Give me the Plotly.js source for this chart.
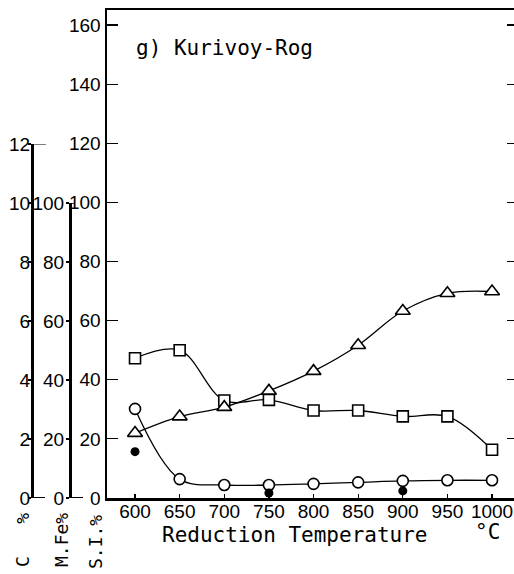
<!DOCTYPE html>
<html>
<head>
<meta charset="utf-8">
<script src="https://cdn.plot.ly/plotly-3.0.1.min.js"></script>
<style>
  html, body { margin: 0; padding: 0; background: #fff; }
  #chart { width: 514px; height: 574px; }
</style>
</head>
<body>
<div id="chart"></div>
<script>
// Reduction temperature (°C)
const temps = [600, 650, 700, 750, 800, 850, 900, 950, 1000];
// S.I. % (open squares)
const siPct = [47.3, 50.0, 33.0, 33.2, 29.6, 29.6, 27.6, 27.6, 16.3];
// M.Fe % (open triangles)
const mFePct = [22.0, 27.6, 30.8, 36.3, 43.0, 51.8, 63.4, 69.4, 70.0];
// C % (open circles)
const cPct = [3.02, 0.64, 0.44, 0.44, 0.48, 0.53, 0.58, 0.60, 0.60];
// C % (filled dots)
const solidTemps = [600, 750, 900];
const cPctSolid = [1.57, 0.17, 0.24];

const siTicks = [0, 20, 40, 60, 80, 100, 120, 140, 160];
const mFeTicks = [0, 20, 40, 60, 80, 100];
const cTicks = [0, 2, 4, 6, 8, 10, 12];

const W = 514, H = 574;
const plotL = 107, plotT = 10, plotB = 498;
const plotH = plotB - plotT;

const tickFont = { family: 'Liberation Sans, Arial, sans-serif', size: 19, color: '#000' };
const textFont = { family: 'DejaVu Sans Mono, monospace', size: 21, color: '#000' };
const unitFont = { family: 'DejaVu Sans Mono, monospace', size: 18, color: '#000' };
const lineStyle = { color: '#000', width: 1.3, shape: 'spline', smoothing: 1 };
const openMarker = (symbol, size) => ({
  symbol: symbol, size: size, color: '#fff', line: { color: '#000', width: 1.6 }
});

const traces = [
  { x: temps, y: siPct, mode: 'lines+markers', xaxis: 'x', yaxis: 'y',
    line: lineStyle, marker: openMarker('square', 11), name: 'S.I. %' },
  { x: temps, y: mFePct, mode: 'lines+markers', xaxis: 'x', yaxis: 'y2',
    line: lineStyle, marker: openMarker('triangle-up', 13), name: 'M.Fe %' },
  { x: temps, y: cPct, mode: 'lines+markers', xaxis: 'x', yaxis: 'y3',
    line: lineStyle, marker: openMarker('circle', 11), name: 'C %' },
  { x: solidTemps, y: cPctSolid, mode: 'markers', xaxis: 'x', yaxis: 'y3',
    marker: { symbol: 'circle', size: 9, color: '#000' }, name: 'C % (solid)' },
  // carries the tick marks along the right edge
  { x: [], y: [], xaxis: 'x', yaxis: 'y4', showlegend: false, hoverinfo: 'skip' }
];

const px = v => v / W;               // paper x from pixel
const py = v => (plotB - v) / plotH; // paper y from pixel

const layout = {
  width: W, height: H,
  margin: { l: 0, r: 0, t: plotT, b: H - plotB, pad: 0 },
  paper_bgcolor: '#fff', plot_bgcolor: 'rgba(0,0,0,0)',
  showlegend: false,
  xaxis: {
    domain: [px(plotL), 1],
    range: [568.6, 1024.6],
    tickvals: temps, ticktext: temps.map(String),
    showline: true, linecolor: '#000', linewidth: 2.5, mirror: true,
    ticks: 'inside', ticklen: 4, tickwidth: 1.2, tickcolor: '#000',
    ticklabelstandoff: -5,
    showgrid: false, zeroline: false, tickfont: tickFont
  },
  yaxis: {
    domain: [0, 1], anchor: 'x',
    range: [0, 165.1],
    tickvals: siTicks,
    showline: true, linecolor: '#000', linewidth: 2.5,
    ticks: 'inside', ticklen: 11, tickwidth: 1.2, tickcolor: '#000',
    showgrid: false, zeroline: false, tickfont: tickFont
  },
  yaxis4: {
    overlaying: 'y', side: 'right', anchor: 'x',
    range: [0, 165.1],
    tickvals: siTicks.slice(1),
    showline: false, showticklabels: false,
    ticks: 'inside', ticklen: 7, tickwidth: 1.2, tickcolor: '#000',
    showgrid: false, zeroline: false
  },
  yaxis2: {
    domain: [0, py(203)], anchor: 'free', position: px(70),
    range: [0, 100],
    tickvals: mFeTicks,
    showline: true, linecolor: '#000', linewidth: 2.5,
    ticks: 'outside', ticklen: 3, tickwidth: 1.2, tickcolor: '#000',
    ticklabelstandoff: -2,
    showgrid: false, zeroline: false, tickfont: tickFont
  },
  yaxis3: {
    domain: [0, py(144)], anchor: 'free', position: px(32),
    range: [0, 12],
    tickvals: cTicks,
    showline: true, linecolor: '#000', linewidth: 2.5,
    ticks: 'outside', ticklen: 3, tickwidth: 1.2, tickcolor: '#000',
    ticklabelstandoff: -6,
    showgrid: false, zeroline: false, tickfont: tickFont
  },
  shapes: [
    // end ticks of the C % scale
    { type: 'line', xref: 'paper', yref: 'y3', x0: px(32), x1: px(46), y0: 12, y1: 12,
      line: { color: '#000', width: 1 } },
    { type: 'line', xref: 'paper', yref: 'y3', x0: px(32), x1: px(45), y0: 0, y1: 0,
      line: { color: '#000', width: 2 } },
    // end ticks of the M.Fe % scale
    { type: 'line', xref: 'paper', yref: 'y2', x0: px(70), x1: px(74), y0: 100, y1: 100,
      line: { color: '#000', width: 1.5 } },
    { type: 'line', xref: 'paper', yref: 'y2', x0: px(70), x1: px(83), y0: 0, y1: 0,
      line: { color: '#000', width: 2 } }
  ],
  annotations: [
    { text: 'g) Kurivoy-Rog', xref: 'paper', yref: 'paper', x: px(134), y: py(48),
      xanchor: 'left', yanchor: 'middle', showarrow: false, font: textFont },
    { text: 'Reduction Temperature', xref: 'paper', yref: 'paper', x: px(295), y: py(535),
      xanchor: 'center', yanchor: 'middle', showarrow: false, font: textFont },
    { text: '°C', xref: 'paper', yref: 'paper', x: px(487), y: py(532),
      xanchor: 'center', yanchor: 'middle', showarrow: false, font: textFont },
    { text: 'C   %', xref: 'paper', yref: 'paper', x: px(22), y: py(540), textangle: -90,
      xanchor: 'center', yanchor: 'middle', showarrow: false, font: unitFont },
    { text: 'M.Fe%', xref: 'paper', yref: 'paper', x: px(61), y: py(540), textangle: -90,
      xanchor: 'center', yanchor: 'middle', showarrow: false, font: unitFont },
    { text: 'S.I.%', xref: 'paper', yref: 'paper', x: px(95), y: py(542), textangle: -90,
      xanchor: 'center', yanchor: 'middle', showarrow: false, font: unitFont }
  ]
};

Plotly.newPlot('chart', traces, layout, { staticPlot: true, displayModeBar: false });
</script>
</body>
</html>
